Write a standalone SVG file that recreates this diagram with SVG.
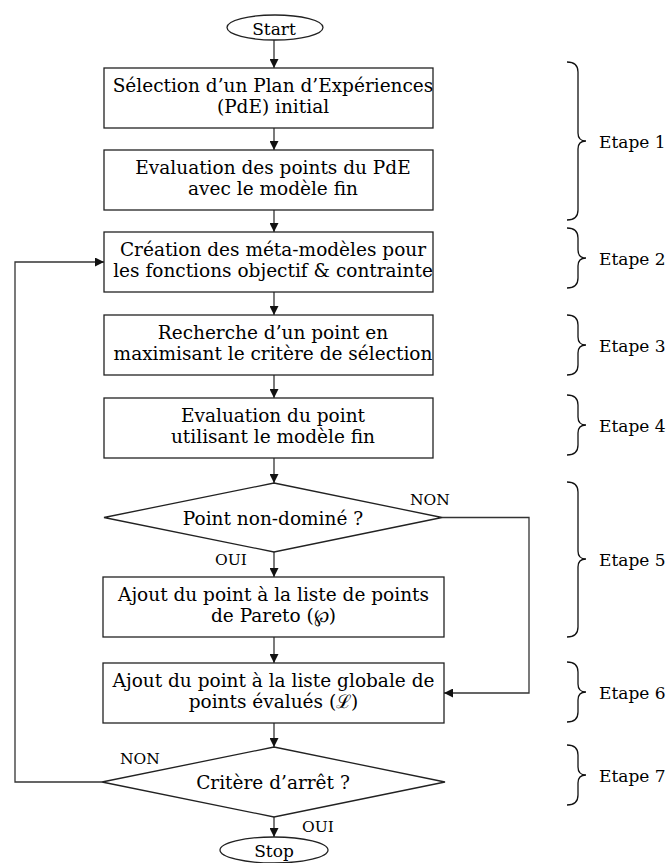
<svg xmlns="http://www.w3.org/2000/svg" width="668" height="863" viewBox="0 0 668 863">
<style>
text{font-family:"DejaVu Serif","Liberation Serif",serif;fill:#000}
.t{font-size:18.5px;text-anchor:middle}
.s{font-size:17px;text-anchor:middle}
.l{font-size:15.5px}
.e{font-size:17px}
.box{fill:#fff;stroke:#222;stroke-width:1.3}
.con{fill:none;stroke:#333;stroke-width:1.3}
.br{fill:none;stroke:#111;stroke-width:1.3}
</style>
<defs>
<marker id="ah" viewBox="0 0 10 10" refX="10" refY="5" markerUnits="userSpaceOnUse" markerWidth="9" markerHeight="9" orient="auto">
<path d="M0,0 L10,5 L0,10 z" fill="#111"/>
</marker>
</defs>
<g id="connectors">
<path class="con" marker-end="url(#ah)" d="M274,40 V68"/>
<path class="con" marker-end="url(#ah)" d="M274,128 V150"/>
<path class="con" marker-end="url(#ah)" d="M274,210 V232"/>
<path class="con" marker-end="url(#ah)" d="M274,292 V315"/>
<path class="con" marker-end="url(#ah)" d="M274,375 V398"/>
<path class="con" marker-end="url(#ah)" d="M274,458 V483"/>
<path class="con" marker-end="url(#ah)" d="M274,552 V577"/>
<path class="con" marker-end="url(#ah)" d="M274,637 V663"/>
<path class="con" marker-end="url(#ah)" d="M274,723 V747"/>
<path class="con" marker-end="url(#ah)" d="M274,817 V837"/>
<path class="con" marker-end="url(#ah)" d="M442,517.5 H529 V693 H444"/>
<path class="con" marker-end="url(#ah)" d="M102,782 H15 V262 H104"/>
<text class="l" x="410" y="505">NON</text>
<text class="l" x="215" y="565">OUI</text>
<text class="l" x="120" y="764">NON</text>
<text class="l" x="302" y="832">OUI</text>
</g>
<g id="start">
<ellipse class="box" cx="275" cy="27.5" rx="48" ry="12.5"/>
<text class="s" x="274" y="34.5">Start</text>
</g>
<g id="n1">
<rect class="box" x="104" y="68" width="329" height="60"/>
<text class="t" x="273" y="91.5">Sélection d’un Plan d’Expériences</text>
<text class="t" x="273" y="113">(PdE) initial</text>
</g>
<g id="n2">
<rect class="box" x="104" y="150" width="329" height="60"/>
<text class="t" x="273" y="173.5">Evaluation des points du PdE</text>
<text class="t" x="273" y="195">avec le modèle fin</text>
</g>
<g id="n3">
<rect class="box" x="104" y="232" width="329" height="60"/>
<text class="t" x="273" y="255.5">Création des méta-modèles pour</text>
<text class="t" x="273" y="277">les fonctions objectif &amp; contrainte</text>
</g>
<g id="n4">
<rect class="box" x="104" y="315" width="329" height="60"/>
<text class="t" x="273" y="338.5">Recherche d’un point en</text>
<text class="t" x="273" y="360">maximisant le critère de sélection</text>
</g>
<g id="n5">
<rect class="box" x="104" y="398" width="329" height="60"/>
<text class="t" x="273" y="421.5">Evaluation du point</text>
<text class="t" x="273" y="443">utilisant le modèle fin</text>
</g>
<g id="d1">
<polygon class="box" points="274,483 442,517.5 274,552 104,517.5"/>
<text class="t" x="273" y="524.5">Point non-dominé ?</text>
</g>
<g id="n6">
<rect class="box" x="103" y="577" width="341" height="60"/>
<text class="t" x="273.5" y="600.5">Ajout du point à la liste de points</text>
<text class="t" x="273.5" y="622">de Pareto (℘)</text>
</g>
<g id="n7">
<rect class="box" x="103" y="663" width="341" height="60"/>
<text class="t" x="273.5" y="686.5">Ajout du point à la liste globale de</text>
<text class="t" x="273.5" y="708">points évalués (ℒ)</text>
</g>
<g id="d2">
<polygon class="box" points="274,747 445,782 274,817 102,782"/>
<text class="t" x="273" y="789">Critère d’arrêt ?</text>
</g>
<g id="stop">
<ellipse class="box" cx="274" cy="850" rx="54" ry="13"/>
<text class="s" x="274" y="856.5">Stop</text>
</g>
<g id="steps">
<path class="br" d="M567,62 Q578,62 578,72 L578,133 Q578,141 586,141 Q578,141 578,149 L578,210 Q578,220 567,220"/>
<text class="e" x="599" y="147.5">Etape 1</text>
<path class="br" d="M567,228 Q578,228 578,238 L578,250 Q578,258 586,258 Q578,258 578,266 L578,278 Q578,288 567,288"/>
<text class="e" x="599" y="264.5">Etape 2</text>
<path class="br" d="M567,315 Q578,315 578,325 L578,337 Q578,345 586,345 Q578,345 578,353 L578,365 Q578,375 567,375"/>
<text class="e" x="599" y="351.5">Etape 3</text>
<path class="br" d="M567,395 Q578,395 578,405 L578,417 Q578,425 586,425 Q578,425 578,433 L578,445 Q578,455 567,455"/>
<text class="e" x="599" y="431.5">Etape 4</text>
<path class="br" d="M567,482 Q578,482 578,492 L578,551 Q578,559 586,559 Q578,559 578,567 L578,627 Q578,637 567,637"/>
<text class="e" x="599" y="565.5">Etape 5</text>
<path class="br" d="M567,662 Q578,662 578,672 L578,684 Q578,692 586,692 Q578,692 578,700 L578,712 Q578,722 567,722"/>
<text class="e" x="599" y="698.5">Etape 6</text>
<path class="br" d="M567,745 Q578,745 578,755 L578,767 Q578,775 586,775 Q578,775 578,783 L578,795 Q578,805 567,805"/>
<text class="e" x="599" y="781.5">Etape 7</text>
</g>
</svg>
